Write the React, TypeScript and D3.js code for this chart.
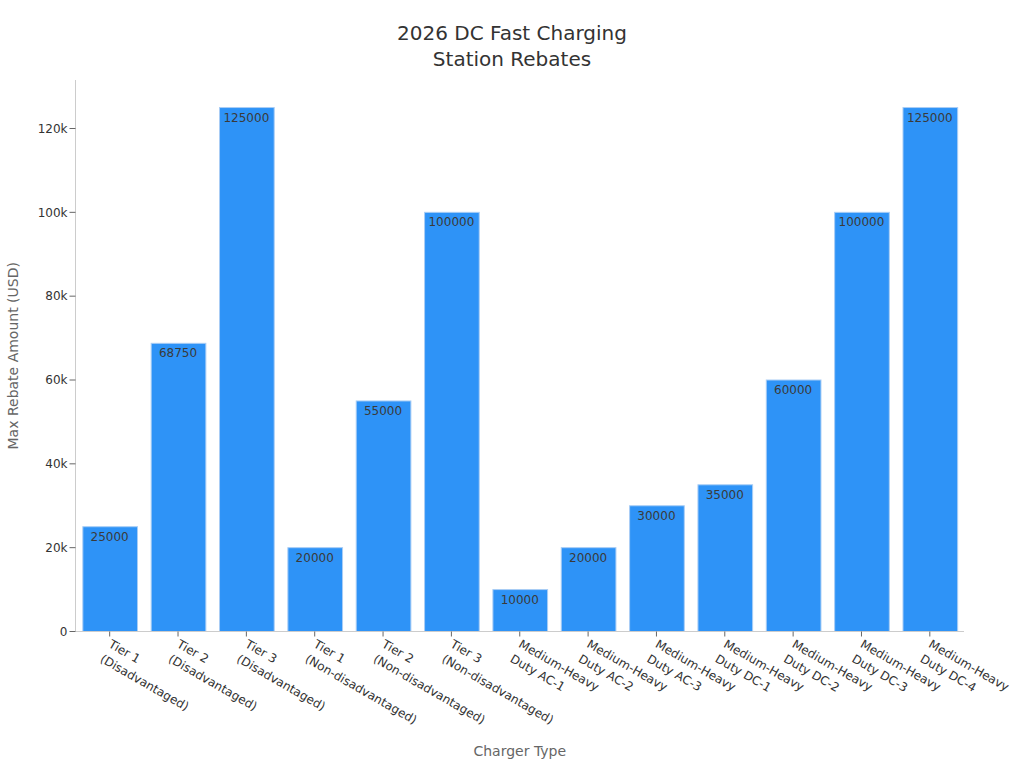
import React from "react";
import * as d3 from "d3";

const categories: string[][] = [
  ["Tier 1", "(Disadvantaged)"],
  ["Tier 2", "(Disadvantaged)"],
  ["Tier 3", "(Disadvantaged)"],
  ["Tier 1", "(Non-disadvantaged)"],
  ["Tier 2", "(Non-disadvantaged)"],
  ["Tier 3", "(Non-disadvantaged)"],
  ["Medium-Heavy", "Duty AC-1"],
  ["Medium-Heavy", "Duty AC-2"],
  ["Medium-Heavy", "Duty AC-3"],
  ["Medium-Heavy", "Duty DC-1"],
  ["Medium-Heavy", "Duty DC-2"],
  ["Medium-Heavy", "Duty DC-3"],
  ["Medium-Heavy", "Duty DC-4"],
];
const values: number[] = [25000, 68750, 125000, 20000, 55000, 100000, 10000, 20000, 30000, 35000, 60000, 100000, 125000];
const yTicks: number[] = [0, 20000, 40000, 60000, 80000, 100000, 120000];

const W = 1024;
const H = 768;
const left = 75.5;
const right = 964;
const top = 80;
const bottom = 631.5;
const font = "DejaVu Sans, sans-serif";

export default function App() {
  const keys = categories.map((c, i) => String(i));
  const x = d3.scaleBand<string>().domain(keys).range([left, right]).paddingInner(0.2).paddingOuter(0.1);
  const y = d3.scaleLinear().domain([0, 120000]).range([bottom, bottom - 503]);
  const fmt = (v: number) => (v === 0 ? "0" : `${v / 1000}k`);
  return (
    <svg width={W} height={H} style={{ position: "absolute", left: 0, top: 0 }} fontFamily={font}>
      <rect width={W} height={H} fill="#fff" />
      <text x={512} y={40} textAnchor="middle" fontSize={20} fill="#333">2026 DC Fast Charging</text>
      <text x={512} y={66} textAnchor="middle" fontSize={20} fill="#333">Station Rebates</text>
      {values.map((v, i) => (
        <g key={i}>
          <rect x={(x(keys[i]) as number) + 0.5} y={y(v)} width={x.bandwidth()} height={bottom - y(v)} fill="#2E93F7" stroke="#a9cdf5" strokeWidth={1} />
          <text x={(x(keys[i]) as number) + x.bandwidth() / 2} y={y(v) + 14} textAnchor="middle" fontSize={12} fill="#3a3a3a">{v}</text>
        </g>
      ))}
      <line x1={left} x2={left} y1={top} y2={bottom} stroke="#ccc" />
      <line x1={left} x2={right} y1={bottom} y2={bottom} stroke="#ccc" />
      {yTicks.map((t) => (
        <g key={t}>
          <line x1={left - 6} x2={left} y1={y(t)} y2={y(t)} stroke="#666" />
          <text x={left - 8} y={y(t)} dy="0.35em" textAnchor="end" fontSize={12} fill="#333">{fmt(t)}</text>
        </g>
      ))}
      {categories.map((c, i) => {
        const cx = (x(keys[i]) as number) + x.bandwidth() / 2;
        return (
          <g key={i}>
            <line x1={cx} x2={cx} y1={bottom} y2={bottom + 5} stroke="#666" />
            <g transform={`translate(${cx - 2},${bottom + 15}) rotate(30)`}>
              <text x={0} y={0} fontSize={12} fill="#333">{c[0]}</text>
              <text x={0} y={17} fontSize={12} fill="#333">{c[1]}</text>
            </g>
          </g>
        );
      })}
      <text x={(left + right) / 2} y={756} textAnchor="middle" fontSize={14} fill="#666">Charger Type</text>
      <text transform={`translate(18,${(top + bottom) / 2}) rotate(-90)`} textAnchor="middle" fontSize={14} fill="#666">Max Rebate Amount (USD)</text>
    </svg>
  );
}
